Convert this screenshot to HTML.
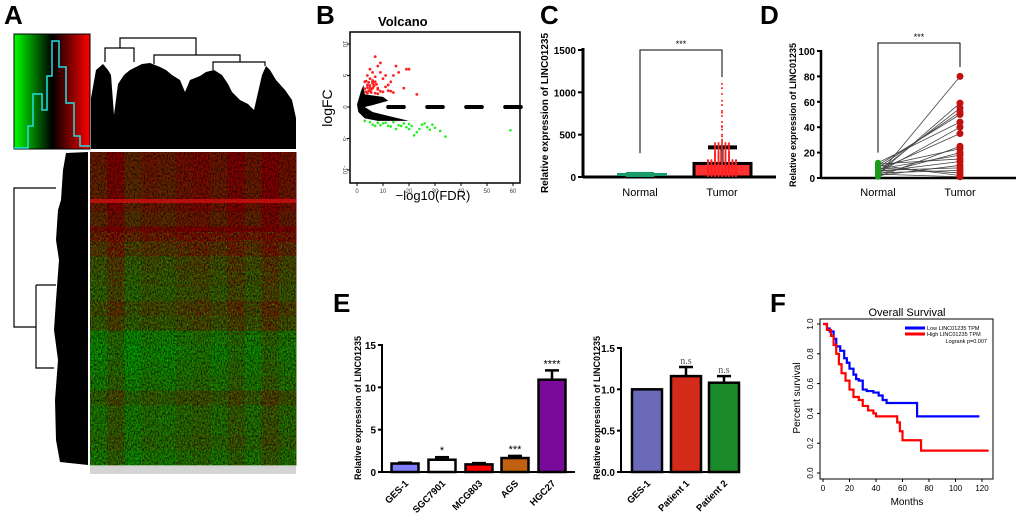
<!DOCTYPE html>
<html><head><meta charset="utf-8"><style>
html,body{margin:0;padding:0;background:#fff;}
svg{display:block;font-family:"Liberation Sans",Arial,sans-serif;}
.lbl{font-size:26px;font-weight:bold;}
</style></head><body>
<svg id="fig" width="1020" height="519" viewBox="0 0 1020 519" xmlns="http://www.w3.org/2000/svg">
<defs>
<linearGradient id="keyg" x1="0" x2="1" y1="0" y2="0">
<stop offset="0" stop-color="#00ff00"/><stop offset="0.5" stop-color="#000"/><stop offset="1" stop-color="#ff0000"/>
</linearGradient>
<filter id="speckDark" x="0" y="0" width="100%" height="100%">
<feTurbulence type="fractalNoise" baseFrequency="0.7 0.45" numOctaves="2" seed="3" result="n"/>
<feColorMatrix in="n" type="matrix" values="0 0 0 0 0  0 0 0 0 0  0 0 0 0 0  2.8 0 0 0 -1.1"/>
</filter>
<filter id="speckGreen" x="0" y="0" width="100%" height="100%">
<feTurbulence type="fractalNoise" baseFrequency="0.8 0.5" numOctaves="2" seed="11" result="n"/>
<feColorMatrix in="n" type="matrix" values="0 0 0 0 0  0 0 0 0 0.8  0 0 0 0 0  0 3 0 0 -1.55"/>
</filter>
</defs>
<!-- Panel A -->
<text class="lbl" x="4" y="24">A</text>
<rect x="14" y="34" width="76" height="115" fill="url(#keyg)" stroke="#000" stroke-width="1"/>
<polyline fill="none" stroke="#22e0e0" stroke-width="1.5" points="14,148 28,148 28,126 33,126 33,94 42,94 42,110 47,110 47,76 52,76 52,41 59,41 59,67 66,67 66,103 74,103 74,136 80,136 80,146 90,146"/>
<g id="topDendro">
<polygon fill="#000" points="91,149 91,98 96,70 103,64 108,70 111,75 114,115 118,84 124,75 130,70 136,67 142,64 150,63 160,67 166,70 172,75 180,80 185,92 190,80 200,76 206,72 214,70 222,75 228,84 232,92 240,100 248,104 254,110 262,75 266,66 270,70 276,80 285,90 292,100 296,118 296,149"/>
<polyline fill="none" stroke="#000" stroke-width="1.2" points="105,62 105,48 134,48 134,62"/>
<polyline fill="none" stroke="#000" stroke-width="1.2" points="120,48 120,38 196,38 196,55"/>
<polyline fill="none" stroke="#000" stroke-width="1.2" points="154,64 154,55 240,55 240,62"/>
<polyline fill="none" stroke="#000" stroke-width="1.2" points="213,70 213,62 265,62 265,66"/>
</g>
<g id="leftDendro">
<polygon fill="#000" points="88,152 66,153 63,170 61,200 58,210 56,240 59,260 56,300 54,330 58,360 55,400 56,440 60,462 88,465"/>
<polyline fill="none" stroke="#000" stroke-width="1.2" points="56,188 14,188 14,327 36,327"/>
<polyline fill="none" stroke="#000" stroke-width="1.2" points="36,285 36,368 54,368"/>
<polyline fill="none" stroke="#000" stroke-width="1.2" points="36,285 56,285"/>
</g>
<g id="heat"></g>
<rect x="90" y="466" width="206" height="8" fill="#d4d4d4"/>

<!-- Panel B -->
<text class="lbl" x="316" y="24">B</text>
<text x="378" y="26" font-size="13" font-weight="bold">Volcano</text>
<g id="volcano"></g>
<text x="332" y="108" font-size="14" text-anchor="middle" transform="rotate(-90 332 108)">logFC</text>
<text x="433" y="200" font-size="13" text-anchor="middle">−log10(FDR)</text>

<!-- Panel C -->
<text class="lbl" x="540" y="24">C</text>
<g id="chartC"></g>
<text x="548" y="113" font-size="10" font-weight="bold" text-anchor="middle" transform="rotate(-90 548 113)">Relative expression of LINC01235</text>

<!-- Panel D -->
<text class="lbl" x="760" y="24">D</text>
<g id="chartD"></g>
<text x="796" y="115" font-size="9" font-weight="bold" text-anchor="middle" transform="rotate(-90 796 115)">Relative expression of LINC01235</text>

<!-- Panel E -->
<text class="lbl" x="333" y="312">E</text>
<g id="chartE1"></g>
<g id="chartE2"></g>
<text x="361" y="408" font-size="9" font-weight="bold" text-anchor="middle" transform="rotate(-90 361 408)">Relative expression of LINC01235</text>
<text x="600" y="408" font-size="9" font-weight="bold" text-anchor="middle" transform="rotate(-90 600 408)">Relative expression of LINC01235</text>

<!-- Panel F -->
<text class="lbl" x="770" y="312">F</text>
<text x="907" y="316" font-size="11" text-anchor="middle">Overall Survival</text>
<g id="chartF"></g>
<text x="800" y="398" font-size="10" text-anchor="middle" transform="rotate(-90 800 398)">Percent survival</text>
<text x="907" y="505" font-size="10" text-anchor="middle">Months</text>
</svg>
<script>
// ---------- Heatmap data (green fraction per band, estimated) ----------
var heatRowGreen=[0.1,0.12,0.15,0.1,0.2,0.0,0.2,0.4,0.45,0.5,0.35,0.45,0.75,0.8,0.75,0.7,0.5,0.65,0.65,0.6,0.7];
var heatColGreen=[0.1,-0.1,0.15,0.05,0.1,0.0,-0.05,0.05,-0.1,0.05,-0.15,0.0];
// ---------- Volcano ----------
var volcRedX=[4,5,6,7,7,8,9,10,11,12,13,14,15,16,18,19,20,23,5,6,8,9,4,5,6,7,8,10,11,12,14,3,4,5,6,9,13,3.5,4.5,5.5,6.5,7.5,3,4,5,6,7,8,3.5,4.5,5.5,6.5];
var volcRedY=[5,6,5.5,8,4,6.5,7,4.5,5,3.5,4,5,6.5,5.5,3,6,6,2,3,4,3,2.5,2.2,2.5,3,2.2,2.8,2.4,3.2,2.6,2.3,4,3.5,4.5,3.8,5.5,2.5,2.4,2.6,2.8,3.3,3.6,2.9,3.1,3.4,4.2,4.8,2.1,4.1,3.9,2.3,3.5];
var volcGreenX=[3,5,6,8,10,12,14,15,17,18,19,20,21,22,24,25,26,27,28,29,30,32,34,59,7,9,11,13,16,20,23];
var volcGreenY=[-2.2,-2.4,-2.8,-2.5,-2.6,-3,-2.4,-3.5,-3,-2.6,-3.2,-2.7,-3,-4.5,-3.5,-2.8,-2.6,-3.2,-3.6,-2.8,-3.3,-3.8,-4.7,-3.7,-3,-2.9,-2.5,-3.1,-2.9,-3.5,-4];
var volcZeroStart=[12,27,42,57];
var volcZeroEnd=[18,33,48,63];
var volcXTicks=[0,10,20,30,40,50,60];
var volcYTicks=[10,5,0,-5,-10];
// ---------- C ----------
var cGroups=["Normal","Tumor"];
var cMeans=[30,160];
var cErr=[20,350];
var cTumorDots=[1100,1050,980,900,850,780,760,720,650,600,590,560,500,480,440,420,400,380,360,340,330,320,300,290,280,270,260,250,240,230,220,210,200,190,180,170,160,150,140,130,120,110,100,90,80,70,60,50,40,30,20,10];
var cYTicks=[0,500,1000,1500];
// ---------- D ----------
var dNormal=[2,3,5,8,10,12,4,6,1,9,3,7,11,5,2,6,4,8,10,3];
var dTumor=[80,59,55,52,50,44,40,35,25,23,20,18,15,13,10,8,6,4,2,1];
var dYTicks=[0,20,40,60,80,100];
// ---------- E ----------
var e1Labels=["GES-1","SGC7901","MCG803","AGS","HGC27"];
var e1Values=[1.0,1.45,0.9,1.65,10.9];
var e1Err=[0.1,0.3,0.15,0.25,1.1];
var e1Sig=["","*","","***","****"];
var e1Colors=["#8080ff","#ffffff","#ff0000","#c06010","#7a0a9a"];
var e1YTicks=[0,5,10,15];
var e2Labels=["GES-1","Patient 1","Patient 2"];
var e2Values=[1.0,1.16,1.08];
var e2Err=[0,0.11,0.08];
var e2Sig=["","n.s","n.s"];
var e2Colors=["#6a6ab8","#d42a1a","#1a8a2a"];
var e2YTicks=[0,0.5,1.0,1.5];
// ---------- F ----------
var fLowT=[0,3,5,8,10,13,16,18,20,23,25,27,30,33,38,42,45,48,71,118];
var fLowS=[1,0.97,0.95,0.9,0.85,0.82,0.77,0.74,0.7,0.66,0.63,0.62,0.56,0.55,0.54,0.52,0.49,0.47,0.38,0.38];
var fHighT=[0,3,6,8,10,12,14,17,20,23,27,30,34,38,40,56,58,60,74,125];
var fHighS=[1,0.96,0.92,0.86,0.8,0.73,0.67,0.62,0.56,0.51,0.49,0.45,0.42,0.40,0.38,0.34,0.28,0.22,0.15,0.15];
var fXTicks=[0,20,40,60,80,100,120];
var fYTicks=[0,0.2,0.4,0.6,0.8,1.0];

var NS="http://www.w3.org/2000/svg";
function mk(tag,attrs,parent){var e=document.createElementNS(NS,tag);for(var k in attrs)e.setAttribute(k,attrs[k]);parent.appendChild(e);return e;}
function txt(s,attrs,parent){var e=mk("text",attrs,parent);e.textContent=s;return e;}

// Heatmap
(function(){
 var g=document.getElementById("heat");
 var x0=90,y0=152,w=206,h=313;
 var rh=h/heatRowGreen.length, cw=w/heatColGreen.length;
 for(var i=0;i<heatRowGreen.length;i++)for(var j=0;j<heatColGreen.length;j++){
  var f=Math.max(0,Math.min(1,heatRowGreen[i]+heatColGreen[j]));
  var r=Math.round(135*(1-f)), gg=Math.round(150*f);
  var c=mk("rect",{x:x0+j*cw,y:y0+i*rh,width:cw+0.5,height:rh+0.5,fill:"rgb("+r+","+gg+",0)"},g);
  
  
 }
 var ov=mk("rect",{x:x0,y:y0,width:w,height:h,filter:"url(#speckDark)",opacity:0.7},g);
 
 
 var ov2=mk("rect",{x:x0,y:y0+80,width:w,height:h-80,filter:"url(#speckGreen)",opacity:0.6},g);
 
 
 var stripe=mk("rect",{x:x0,y:199,width:w,height:4,fill:"#d01010",opacity:0.8},g);
 
 
})();

// Volcano
(function(){
 var g=document.getElementById("volcano");
 var X=function(v){return 357+v*(513-357)/60;}, Y=function(v){return 107-v*(63/10);};
 var box=mk("rect",{x:350,y:32,width:170,height:151,fill:"none",stroke:"#000","stroke-width":1.5},g);
 
 volcXTicks.forEach(function(t){mk("line",{x1:X(t),x2:X(t),y1:183,y2:186,stroke:"#000"},g);var l=txt(t,{x:X(t),y:193,"font-size":6,"text-anchor":"middle",fill:"#444"},g);});
 volcYTicks.forEach(function(t){mk("line",{x1:347,x2:350,y1:Y(t),y2:Y(t),stroke:"#000"},g);var l=txt(t,{x:343,y:Y(t),"font-size":6,"text-anchor":"middle",fill:"#444",transform:"rotate(90 343 "+Y(t)+")"},g);});
 var m=mk("path",{d:"M"+X(0)+","+Y(0.4)+" L"+X(1.5)+","+Y(2.5)+" L"+X(2.5)+","+Y(3.5)+" L"+X(3)+","+Y(2)+" L"+X(10)+","+Y(1.6)+" L"+X(12)+","+Y(1)+" L"+X(6)+","+Y(0.3)+" L"+X(3)+","+Y(0)+" L"+X(6)+","+Y(-0.8)+" L"+X(14)+","+Y(-1.6)+" L"+X(20)+","+Y(-2.2)+" L"+X(8)+","+Y(-2.2)+" L"+X(3)+","+Y(-1.8)+" L"+X(0.5)+","+Y(-0.8)+" Z",fill:"#000"},g);
 
 for(var i=0;i<volcZeroStart.length;i++){var s=mk("line",{x1:X(volcZeroStart[i]),x2:X(volcZeroEnd[i]),y1:Y(0),y2:Y(0),stroke:"#000","stroke-width":4,"stroke-linecap":"round"},g);}
 for(var i=0;i<volcRedX.length;i++){var p=mk("circle",{cx:X(volcRedX[i]),cy:Y(volcRedY[i]),r:1.4,fill:"#ff2020"},g);}
 for(var i=0;i<volcGreenX.length;i++){var p=mk("circle",{cx:X(volcGreenX[i]),cy:Y(volcGreenY[i]),r:1.3,fill:"#22ee22"},g);}
})();

// Panel C
(function(){
 var g=document.getElementById("chartC");
 var Y=function(v){return 177-v*(127/1500);}, XC=[640,722];
 mk("line",{x1:583,x2:583,y1:48,y2:178,stroke:"#000","stroke-width":3},g);
 mk("line",{x1:583,x2:776,y1:177,y2:177,stroke:"#000","stroke-width":3},g);
 cYTicks.forEach(function(t){mk("line",{x1:578,x2:583,y1:Y(t),y2:Y(t),stroke:"#000","stroke-width":2},g);var l=txt(t,{x:576,y:Y(t)+4,"font-size":10,"font-weight":"bold","text-anchor":"end"},g);});
 var nb=mk("rect",{x:626,y:Y(60),width:28,height:Y(0)-Y(60),fill:"#1a9a6a"},g);
 mk("line",{x1:617,x2:667,y1:Y(cMeans[0]),y2:Y(cMeans[0]),stroke:"#1a9a6a","stroke-width":3},g);
 var tb=mk("rect",{x:694,y:Y(cMeans[1]),width:57,height:Y(0)-Y(cMeans[1]),fill:"#ff3030",stroke:"#000","stroke-width":3},g);
 mk("line",{x1:XC[1],x2:XC[1],y1:Y(cMeans[1]),y2:Y(cErr[1]),stroke:"#000","stroke-width":3},g);
 mk("line",{x1:708,x2:737,y1:Y(cErr[1]),y2:Y(cErr[1]),stroke:"#000","stroke-width":4},g);
 cTumorDots.forEach(function(v,i){var n=v>400?1:(v>200?5:9);for(var k=0;k<n;k++){var dx=(k-(n-1)/2)*3.5;var d=mk("circle",{cx:XC[1]+dx,cy:Y(v),r:1,fill:"#ff2020"},g);}});
 var br=mk("polyline",{points:XC[0]+","+Y(280)+" "+XC[0]+","+Y(1500)+" "+XC[1]+","+Y(1500)+" "+XC[1]+","+Y(1180),fill:"none",stroke:"#000","stroke-width":1},g);
 var s=txt("***",{x:(XC[0]+XC[1])/2,y:Y(1500)-3,"font-size":9,"text-anchor":"middle"},g);
 cGroups.forEach(function(c,i){var l=txt(c,{x:XC[i],y:196,"font-size":11,"text-anchor":"middle"},g);});
})();

// Panel D
(function(){
 var g=document.getElementById("chartD");
 var Y=function(v){return 178-v*(127/100);}, XN=878, XT=960;
 mk("line",{x1:821,x2:821,y1:50,y2:179,stroke:"#000","stroke-width":2.5},g);
 mk("line",{x1:821,x2:1016,y1:178,y2:178,stroke:"#000","stroke-width":2.5},g);
 dYTicks.forEach(function(t){mk("line",{x1:817,x2:821,y1:Y(t),y2:Y(t),stroke:"#000","stroke-width":2},g);var l=txt(t,{x:815,y:Y(t)+4,"font-size":10,"font-weight":"bold","text-anchor":"end"},g);});
 for(var i=0;i<dTumor.length;i++){var ln=mk("line",{x1:XN,y1:Y(dNormal[i]),x2:XT,y2:Y(dTumor[i]),stroke:"#444","stroke-width":0.8},g);}
 for(var i=0;i<dTumor.length;i++){var a=mk("circle",{cx:XN,cy:Y(dNormal[i]),r:3,fill:"#1a9a1a"},g);var b=mk("circle",{cx:XT,cy:Y(dTumor[i]),r:3.5,fill:"#c01010"},g);}
 var br=mk("polyline",{points:XN+","+Y(20)+" "+XN+","+43+" "+XT+","+43+" "+XT+","+67,fill:"none",stroke:"#000","stroke-width":1},g);
 var s=txt("***",{x:919,y:40,"font-size":9,"text-anchor":"middle"},g);
 [["Normal",XN],["Tumor",XT]].forEach(function(c){var l=txt(c[0],{x:c[1],y:196,"font-size":11,"text-anchor":"middle"},g);});
})();

function bars(id,labels,vals,errs,sigs,cols,ticks,ax,y0,y1,vmax,xr,centers,bw,fmt,sigSerif){
 var g=document.getElementById(id);
 var Y=function(v){return y0-v*(y0-y1)/vmax;};
 mk("line",{x1:ax,x2:ax,y1:y1-1,y2:y0+1,stroke:"#000","stroke-width":2},g);
 mk("line",{x1:ax,x2:xr,y1:y0,y2:y0,stroke:"#000","stroke-width":2},g);
 ticks.forEach(function(t){mk("line",{x1:ax-4,x2:ax,y1:Y(t),y2:Y(t),stroke:"#000","stroke-width":2},g);var l=txt(fmt(t),{x:ax-6,y:Y(t)+4,"font-size":10,"font-weight":"bold","text-anchor":"end"},g);});
 for(var i=0;i<vals.length;i++){
  var cx=centers[i];
  if(errs[i]>0){mk("line",{x1:cx,x2:cx,y1:Y(vals[i]),y2:Y(vals[i]+errs[i]),stroke:"#000","stroke-width":2.5},g);mk("line",{x1:cx-7,x2:cx+7,y1:Y(vals[i]+errs[i]),y2:Y(vals[i]+errs[i]),stroke:"#000","stroke-width":2.5},g);}
  var b=mk("rect",{x:cx-bw/2,y:Y(vals[i]),width:bw,height:Y(0)-Y(vals[i]),fill:cols[i],stroke:"#000","stroke-width":2.5},g);
  
  
  if(sigs[i]){var s=txt(sigs[i],{x:cx,y:Y(vals[i]+errs[i])-3,"font-size":sigSerif?10:11,"text-anchor":"middle","font-family":sigSerif?"Liberation Serif, serif":"Liberation Sans, sans-serif",fill:sigSerif?"#555":"#000"},g);}
  var l=txt(labels[i],{x:cx+4,y:y0+12,"font-size":9.5,"font-weight":"bold","text-anchor":"end",transform:"rotate(-45 "+(cx+4)+" "+(y0+12)+")"},g);
  
 }
}
bars("chartE1",e1Labels,e1Values,e1Err,e1Sig,e1Colors,e1YTicks,382,472,345,15,575,[405,442,479,515,552],27,function(t){return t;},false);
bars("chartE2",e2Labels,e2Values,e2Err,e2Sig,e2Colors,e2YTicks,621,472,348,1.5,738,[647,686,724],30,function(t){return t.toFixed(1);},true);

// Panel F
(function(){
 var g=document.getElementById("chartF");
 var X=function(v){return 823+v*(982-823)/120;}, Y=function(v){return 473-v*(473-324);};
 var fr=mk("rect",{x:820,y:319,width:173,height:160,fill:"none",stroke:"#000","stroke-width":1},g);
 fXTicks.forEach(function(t){mk("line",{x1:X(t),x2:X(t),y1:479,y2:482,stroke:"#000"},g);var l=txt(t,{x:X(t),y:491,"font-size":8,"text-anchor":"middle"},g);});
 fYTicks.forEach(function(t){mk("line",{x1:817,x2:820,y1:Y(t),y2:Y(t),stroke:"#000"},g);var l=txt(t.toFixed(1),{x:813,y:Y(t),"font-size":8,"text-anchor":"middle",transform:"rotate(-90 813 "+Y(t)+")"},g);});
 function step(T,S,col,name){var p="M"+X(T[0])+","+Y(S[0]);for(var i=1;i<T.length;i++){p+=" H"+X(T[i])+" V"+Y(S[i]);}var e=mk("path",{d:p,fill:"none",stroke:col,"stroke-width":2.2},g);}
 step(fLowT,fLowS,"#0000ff","low-tpm-curve");
 step(fHighT,fHighS,"#ff0000","high-tpm-curve");
 mk("line",{x1:905,x2:925,y1:328,y2:328,stroke:"#0000ff","stroke-width":3},g);
 mk("line",{x1:905,x2:925,y1:334,y2:334,stroke:"#ff0000","stroke-width":3},g);
 var a=txt("Low LINC01235 TPM",{x:927,y:330,"font-size":5.5},g);
 var b=txt("High LINC01235 TPM",{x:927,y:336,"font-size":5.5},g);
 var c=txt("Logrank p=0.007",{x:987,y:343,"font-size":5.5,"text-anchor":"end"},g);
})();
</script>
</body></html>
